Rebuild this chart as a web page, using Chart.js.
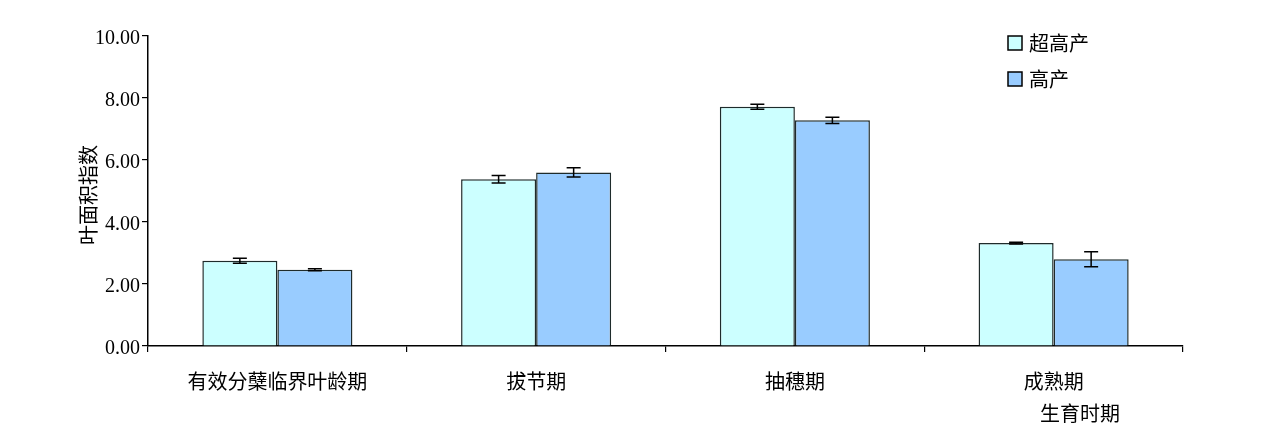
<!DOCTYPE html>
<html><head><meta charset="utf-8">
<script src="https://cdn.jsdelivr.net/npm/chart.js@4.4.1/dist/chart.umd.min.js"></script>
<style>html,body{margin:0;padding:0;background:#fff}#wrap{width:1269px;height:434px}</style>
</head><body><div id="wrap"><canvas id="c" width="1269" height="434"></canvas></div>
<script>
const categories = ['有效分蘖临界叶龄期', '拔节期', '抽穗期', '成熟期'];
const seriesNames = ['超高产', '高产'];
const superHigh = [2.75, 5.38, 7.72, 3.32];
const superHighErr = [0.08, 0.12, 0.08, 0.03];
const high = [2.46, 5.60, 7.28, 2.80];
const highErr = [0.03, 0.15, 0.10, 0.24];
const yTicks = [0, 2, 4, 6, 8, 10];
const yTitle = '叶面积指数';
const xTitle = '生育时期';

const CJK = '"Noto Sans CJK SC", sans-serif';
const SERIF = '"Liberation Serif", "DejaVu Serif", serif';

const errorBars = {
  id: 'errorBars',
  afterDatasetsDraw(chart) {
    const ctx = chart.ctx, y = chart.scales.y;
    ctx.save();
    ctx.strokeStyle = '#000'; ctx.lineWidth = 1.5;
    chart.data.datasets.forEach((ds, di) => {
      const meta = chart.getDatasetMeta(di);
      meta.data.forEach((bar, i) => {
        const v = ds.data[i], e = ds.errors[i];
        const yt = y.getPixelForValue(v + e), yb = y.getPixelForValue(v - e);
        const x = bar.x, cw = 7;
        ctx.beginPath();
        ctx.moveTo(x, yt); ctx.lineTo(x, yb);
        ctx.moveTo(x - cw, yt); ctx.lineTo(x + cw, yt);
        ctx.moveTo(x - cw, yb); ctx.lineTo(x + cw, yb);
        ctx.stroke();
      });
    });
    ctx.restore();
  }
};

const extraText = {
  id: 'extraText',
  afterDraw(chart) {
    const ctx = chart.ctx, a = chart.chartArea;
    ctx.save();
    ctx.fillStyle = '#000';
    ctx.font = '20px ' + CJK;
    ctx.translate(88, (a.top + a.bottom) / 2 + 4);
    ctx.rotate(-Math.PI / 2);
    ctx.textAlign = 'center'; ctx.textBaseline = 'middle';
    ctx.fillText(yTitle, 0, 0);
    ctx.restore();
    ctx.save();
    ctx.font = '20px ' + CJK;
    ctx.fillStyle = '#000';
    ctx.textAlign = 'left'; ctx.textBaseline = 'middle';
    ctx.fillText(xTitle, 1040, 413);
    chart.data.datasets.forEach((ds, i) => {
      const ly = 43 + i * 36;
      ctx.fillStyle = ds.backgroundColor;
      ctx.fillRect(1008, ly - 7, 14, 14);
      ctx.strokeStyle = '#000'; ctx.lineWidth = 1.5;
      ctx.strokeRect(1008, ly - 7, 14, 14);
      ctx.fillStyle = '#000';
      ctx.fillText(ds.label, 1029, ly);
    });
    ctx.restore();
  }
};

new Chart(document.getElementById('c'), {
  type: 'bar',
  data: {
    labels: categories,
    datasets: [
      { label: seriesNames[0], data: superHigh, errors: superHighErr, backgroundColor: '#CCFFFF', borderColor: '#1e2b2b', borderWidth: 1.5, borderSkipped: 'bottom' },
      { label: seriesNames[1], data: high, errors: highErr, backgroundColor: '#99CCFF', borderColor: '#1e2b2b', borderWidth: 1.5, borderSkipped: 'bottom' }
    ]
  },
  options: {
    responsive: false, animation: false,
    layout: { padding: { left: 88, right: 86, top: 36, bottom: 28 } },
    datasets: { bar: { barPercentage: 1, categoryPercentage: 0.58 } },
    plugins: { legend: { display: false }, tooltip: { enabled: false } },
    scales: {
      x: {
        grid: { drawOnChartArea: false, drawTicks: true, tickLength: 6, color: '#000', lineWidth: 1.2, offset: true },
        border: { color: '#000', width: 1.5 },
        ticks: { color: '#000', font: { family: CJK, size: 20 }, padding: 17, maxRotation: 0 },
        afterFit(s) { s.height = 60; }
      },
      y: {
        min: 0, max: 10,
        afterBuildTicks(s) { s.ticks = yTicks.map(v => ({ value: v })); },
        grid: { drawOnChartArea: false, drawTicks: true, tickLength: 6, color: '#000', lineWidth: 1.2 },
        border: { color: '#000', width: 1.5 },
        ticks: { color: '#000', font: { family: SERIF, size: 20 }, padding: 2, labelOffset: 3, callback: v => v.toFixed(2) },
        afterFit(s) { s.width = 60; }
      }
    }
  },
  plugins: [errorBars, extraText]
});
</script></body></html>
